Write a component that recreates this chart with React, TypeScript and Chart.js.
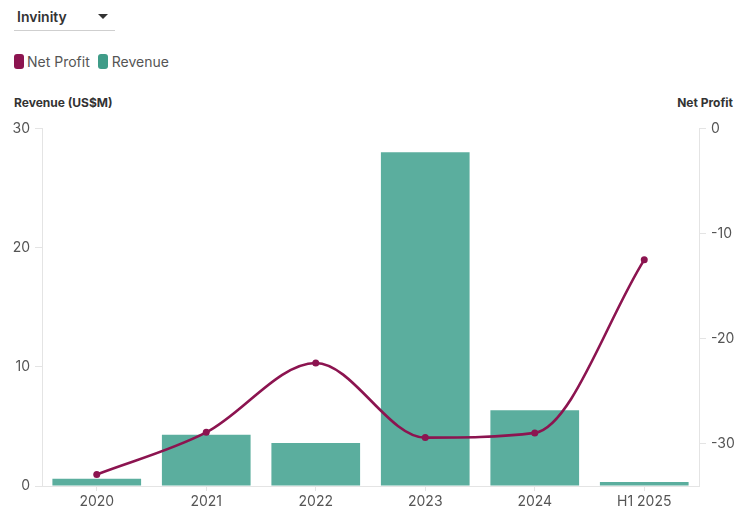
import React, { useEffect, useRef } from "react";
import { Chart, registerables } from "chart.js";

Chart.register(...registerables);

const categories = ["2020", "2021", "2022", "2023", "2024", "H1 2025"];
const revenue = [0.6, 4.3, 3.6, 28.0, 6.35, 0.33];
const netProfit = [-32.9, -28.9, -22.3, -29.4, -28.95, -12.5];
const leftTicks = [0, 10, 20, 30];
const rightTicks = [0, -10, -20, -30];

const FONT = "Inter, 'Open Sans', sans-serif";
const MAROON = "#8c1450";
const TEAL = "#5bae9e";
const TEAL_LEGEND = "#3f9c88";

export default function App() {
  const ref = useRef<HTMLCanvasElement>(null);
  useEffect(() => {
    document.body.style.margin = "0";
    const ctx = ref.current!;
    const chart = new Chart(ctx, {
      type: "bar",
      data: {
        labels: categories,
        datasets: [
          {
            type: "line",
            label: "Net Profit",
            data: netProfit,
            yAxisID: "y1",
            borderColor: MAROON,
            backgroundColor: MAROON,
            borderWidth: 2.6,
            pointRadius: 3.5,
            pointBackgroundColor: MAROON,
            pointBorderWidth: 0,
            cubicInterpolationMode: "monotone",
            order: 0,
          } as any,
          {
            type: "bar",
            label: "Revenue",
            data: revenue,
            yAxisID: "y",
            backgroundColor: TEAL,
            borderWidth: 0,
            barPercentage: 0.9,
            categoryPercentage: 0.9,
            order: 1,
          },
        ],
      },
      options: {
        animation: false,
        responsive: false,
        maintainAspectRatio: false,
        layout: { padding: { top: 12, left: 0, right: 0, bottom: 0 } },
        plugins: { legend: { display: false }, tooltip: { enabled: false } },
        scales: {
          x: {
            grid: { drawOnChartArea: false, offset: false, tickLength: 5, color: "#e4e4e4" },
            border: { color: "#e4e4e4" },
            ticks: { color: "#555", font: { family: FONT, size: 14 }, padding: 2 },
            afterFit: (s: any) => { s.height = 29; },
          },
          y: {
            position: "left",
            min: 0,
            max: 30,
            afterBuildTicks: (s: any) => { s.ticks = leftTicks.map((v) => ({ value: v })); },
            grid: { drawOnChartArea: false, tickLength: 7, color: "#e4e4e4" },
            border: { color: "#e4e4e4" },
            ticks: { color: "#555", font: { family: FONT, size: 14 }, padding: 5 },
            afterFit: (s: any) => { s.width = 42; },
          },
          y1: {
            position: "right",
            min: -34,
            max: 0,
            afterBuildTicks: (s: any) => { s.ticks = rightTicks.map((v) => ({ value: v })); },
            grid: { drawOnChartArea: false, tickLength: 7, color: "#e4e4e4" },
            border: { color: "#e4e4e4" },
            ticks: { color: "#555", font: { family: FONT, size: 14 }, padding: 5 },
            afterFit: (s: any) => { s.width = 48; },
          },
        },
      },
    });
    return () => chart.destroy();
  }, []);

  return (
    <div style={{ position: "relative", width: 747, height: 515, fontFamily: FONT, background: "#fff" }}>
      <div style={{ position: "absolute", left: 14, top: 6, width: 101, height: 24, borderBottom: "1px solid #cfcfcf" }}>
        <span style={{ position: "absolute", left: 3, top: 2, fontSize: 14, fontWeight: 600, color: "#333" }}>Invinity</span>
        <span style={{ position: "absolute", left: 84, top: 8, width: 0, height: 0, borderLeft: "5px solid transparent", borderRight: "5px solid transparent", borderTop: "5px solid #333" }} />
      </div>
      <div style={{ position: "absolute", left: 14, top: 53, display: "flex", alignItems: "center", fontSize: 14, color: "#555" }}>
        <span style={{ display: "inline-block", width: 10, height: 15, borderRadius: 3, background: MAROON, marginRight: 3 }} />
        <span style={{ marginRight: 8 }}>Net Profit</span>
        <span style={{ display: "inline-block", width: 10, height: 15, borderRadius: 3, background: TEAL_LEGEND, marginRight: 4 }} />
        <span>Revenue</span>
      </div>
      <div style={{ position: "absolute", left: 14, top: 95, fontSize: 12, fontWeight: 700, color: "#333" }}>Revenue (US$M)</div>
      <div style={{ position: "absolute", right: 14, top: 95, fontSize: 12, fontWeight: 700, color: "#333" }}>Net Profit</div>
      <canvas ref={ref} width={747} height={400} style={{ position: "absolute", left: 0, top: 115, width: 747, height: 400 }} />
    </div>
  );
}
